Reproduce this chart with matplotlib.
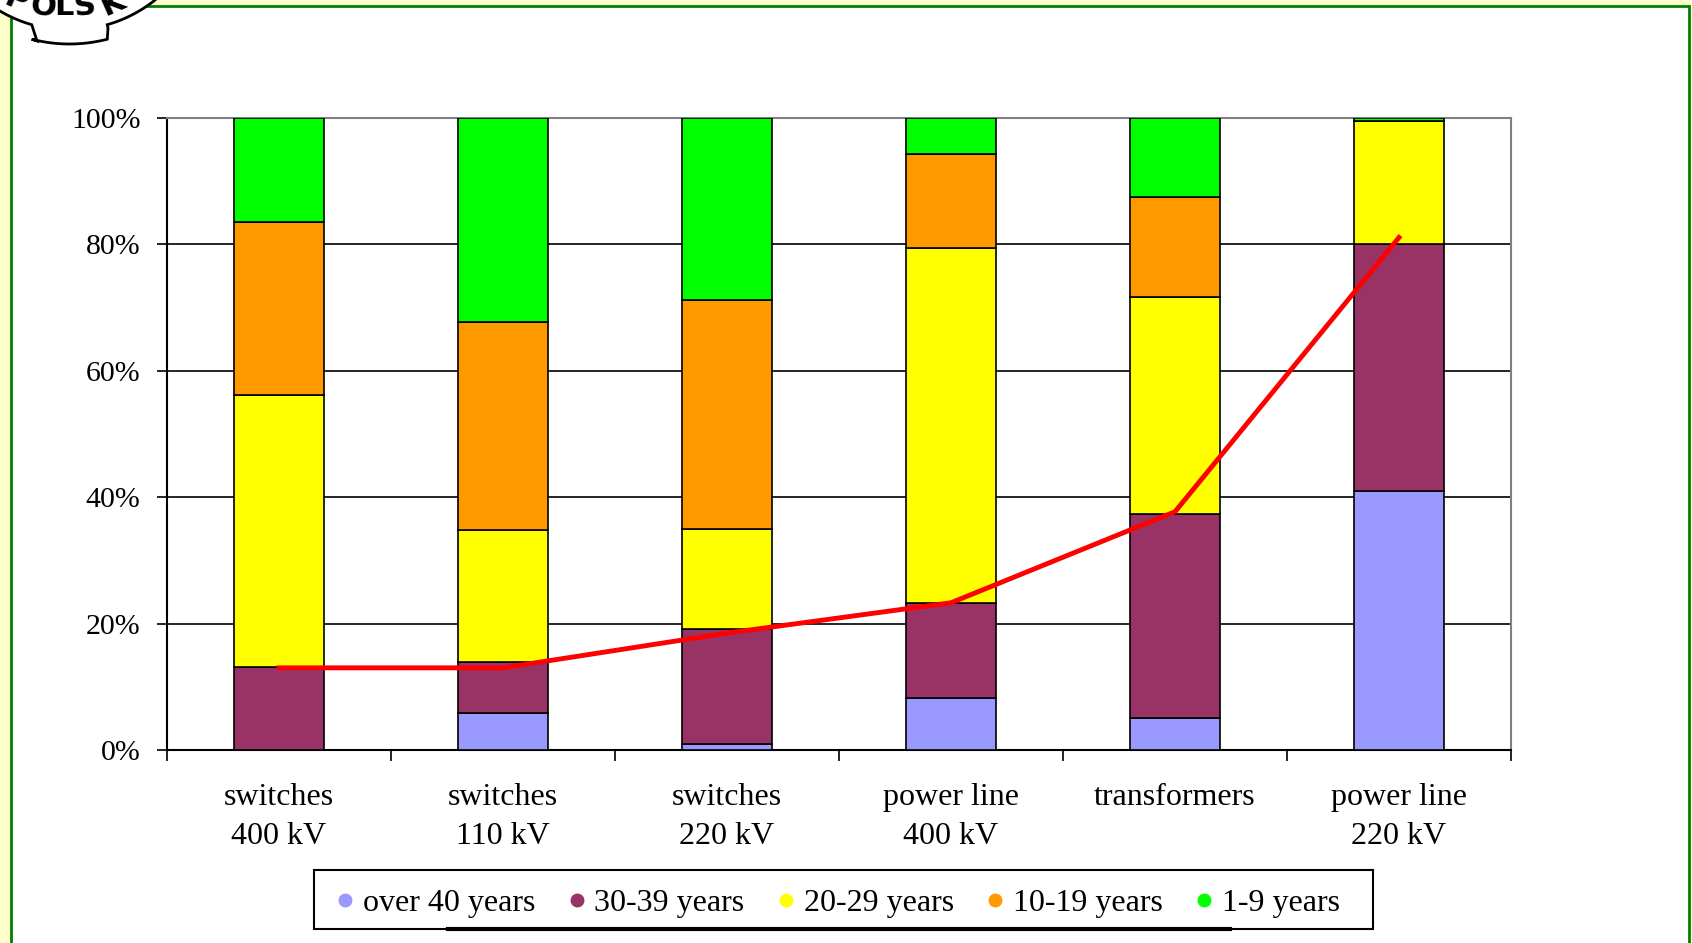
import numpy as np
import matplotlib
matplotlib.use('Agg')
import matplotlib.pyplot as plt
from matplotlib.lines import Line2D
from matplotlib.patches import Rectangle, Polygon

# age structure of grid equipment, share of units in each age group (%)
categories = ['switches\n400 kV', 'switches\n110 kV', 'switches\n220 kV',
              'power line\n400 kV', 'transformers', 'power line\n220 kV']
age_groups = ['over 40 years', '30-39 years', '20-29 years', '10-19 years', '1-9 years']
over_40 = [0.0, 5.9, 0.9, 8.2, 5.1, 41.0]
y30_39 = [13.1, 8.0, 18.3, 15.1, 32.3, 39.0]
y20_29 = [43.0, 20.9, 15.8, 56.1, 34.3, 19.5]
y10_19 = [27.5, 32.9, 36.2, 14.9, 15.8, 0.0]
y1_9 = [16.4, 32.3, 28.8, 5.7, 12.5, 0.5]
# red trend line (share older than 30 years)
trend = [13.0, 13.0, 18.5, 23.3, 37.7, 81.1]
yticks = [0, 20, 40, 60, 80, 100]

COLORS = ['#9999FF', '#993366', '#FFFF00', '#FF9900', '#00FF00']
SERIF = 'Liberation Serif'

W, H = 1692, 943
fig = plt.figure(figsize=(W / 100, H / 100), dpi=100, facecolor='#FFFFCC')


def px(x, y):
    # pixel (top-left origin) -> figure fraction
    return x / W, 1 - y / H


# slide frame
x0, y0 = px(11, 6)
fig.patches.append(Rectangle((x0, -0.02), px(1689, 0)[0] - x0, y0 + 0.02,
                             transform=fig.transFigure, facecolor='white',
                             edgecolor='#008000', lw=2, zorder=-5))

# logo fragment top-left
cx, cy, r = 69.5, -107.0, 137.0
pts = []
for a in np.linspace(np.radians(-40), np.radians(-16), 30):
    pts.append((cx + r * np.sin(a), cy + r * np.cos(a)))
pts += [(37, 41)]
for a in np.linspace(np.radians(-14.5), np.radians(14.5), 30):
    pts.append((cx + 151 * np.sin(a), cy + 151 * np.cos(a)))
pts += [(108, 28)]
for a in np.linspace(np.radians(16), np.radians(45), 30):
    pts.append((cx + r * np.sin(a), cy + r * np.cos(a)))
fig.patches.append(Polygon([px(*p) for p in pts], closed=False,
                           transform=fig.transFigure, facecolor='white',
                           edgecolor='black', lw=2, zorder=5))
for ch, xc, yb, rot in [('P', 12, 9, -24), ('O', 42, 15, -6), ('L', 64, 15, 0),
                        ('S', 86, 15, 6), ('K', 116, 11, 24)]:
    fig.text(*px(xc, yb), ch, ha='center', va='baseline', fontsize=22,
             fontweight='heavy', family='DejaVu Sans', rotation=rot,
             rotation_mode='anchor', zorder=6)

ax = fig.add_axes([167 / W, 1 - 750 / H, (1511 - 167) / W, (750 - 118) / H])
ax.set_facecolor('white')

x = np.arange(len(categories))
series = [over_40, y30_39, y20_29, y10_19, y1_9]
bottom = np.zeros(len(categories))
for vals, color in zip(series, COLORS):
    ax.bar(x, vals, width=0.4, bottom=bottom, color=color,
           edgecolor='black', lw=1.2, zorder=3)
    bottom += np.array(vals)

ax.plot(x, trend, color='#FF0000', lw=3.5, zorder=4, solid_joinstyle='miter')

ax.set_xlim(-0.5, len(categories) - 0.5)
ax.set_ylim(0, 100)
ax.set_yticks(yticks)
ax.set_yticklabels([f'{v}%' for v in yticks], family=SERIF, fontsize=21.5)
ax.yaxis.grid(True, color='black', lw=1.2, zorder=1)
ax.tick_params(axis='y', length=7, width=1.2, pad=12)

ax.set_xticks(x)
ax.set_xticklabels(categories, family=SERIF, fontsize=23, linespacing=1.45)
ax.set_xticks(np.arange(-0.5, len(categories)), minor=True)
ax.tick_params(axis='x', which='major', length=0, pad=24)
ax.tick_params(axis='x', which='minor', length=8, width=1.2)

for side in ['top', 'right']:
    ax.spines[side].set_color('#808080')
    ax.spines[side].set_linewidth(1.5)
for side in ['left', 'bottom']:
    ax.spines[side].set_linewidth(1.5)

# legend box drawn separately so the padding matches
lx0, ly0 = px(314, 929)
lx1, ly1 = px(1373, 870)
fig.patches.append(Rectangle((lx0, ly0), lx1 - lx0, ly1 - ly0,
                             transform=fig.transFigure, facecolor='white',
                             edgecolor='black', lw=1.5, zorder=8))
handles = [Line2D([], [], ls='none', marker='o', markersize=9, color=c)
           for c in COLORS]
leg = fig.legend(handles, age_groups, loc='center',
                 bbox_to_anchor=((lx0 + lx1) / 2 - 5 / W, (ly0 + ly1) / 2 - 4 / H),
                 ncol=5, prop={'family': SERIF, 'size': 23}, frameon=False,
                 handlelength=0.5, handletextpad=0.3, columnspacing=1.05,
                 borderpad=0, borderaxespad=0)
leg.set_zorder(9)

# thick shadow strip under the legend
fig.add_artist(Line2D([px(448, 0)[0], px(1230, 0)[0]], [px(0, 929)[1]] * 2,
                      transform=fig.transFigure, color='black', lw=3, zorder=10))

fig.savefig('out.png', dpi=100, facecolor=fig.get_facecolor())
